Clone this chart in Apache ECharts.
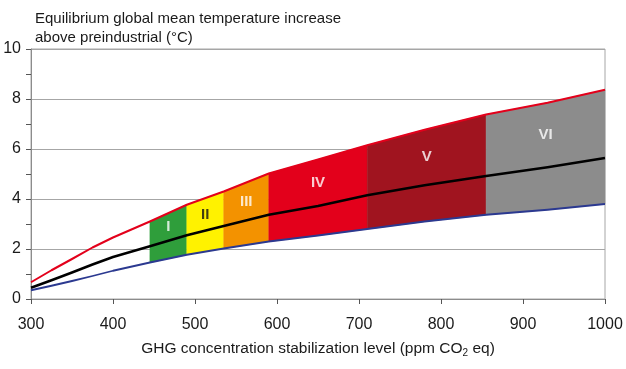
<!DOCTYPE html>
<html><head><meta charset="utf-8">
<script src="https://cdn.jsdelivr.net/npm/echarts@6/dist/echarts.min.js"></script>
<style>html,body{margin:0;padding:0;background:#fff}#c{width:626px;height:369px}</style>
</head><body><div id="c"></div>
<script>
// GHG concentration (ppm CO2 eq)
const ppm   = [300, 325, 350, 375, 400, 445, 490, 535, 590, 650, 710, 780, 855, 930, 1000];
// equilibrium warming (°C): upper bound, best estimate, lower bound
const upper = [0.67, 1.15, 1.60, 2.06, 2.46, 3.10, 3.77, 4.30, 5.02, 5.58, 6.15, 6.77, 7.38, 7.85, 8.37];
const best  = [0.45, 0.75, 1.06, 1.38, 1.68, 2.11, 2.55, 2.92, 3.37, 3.72, 4.15, 4.55, 4.92, 5.27, 5.64];
const lower = [0.35, 0.53, 0.72, 0.92, 1.13, 1.46, 1.77, 2.02, 2.30, 2.54, 2.80, 3.10, 3.37, 3.57, 3.80];
// stabilization categories
const categories = ['I', 'II', 'III', 'IV', 'V', 'VI'];
const catStart   = [445, 490, 535, 590, 710, 855];
const catEnd     = [490, 535, 590, 710, 855, 1000];
const xTicks = [300, 400, 500, 600, 700, 800, 900, 1000];
const yTicks = [0, 2, 4, 6, 8, 10];

const catColors   = ['#2f9e3b', '#fff200', '#f39200', '#e3001b', '#a0141f', '#8c8c8c'];
const labelColors = ['#ffffff', '#111111', '#ffffff', '#ffffff', '#ffffff', '#ffffff'];

function interp(arr, x) {
  for (let i = 0; i < ppm.length - 1; i++) {
    if (x >= ppm[i] && x <= ppm[i + 1]) {
      const t = (x - ppm[i]) / (ppm[i + 1] - ppm[i]);
      return arr[i] + t * (arr[i + 1] - arr[i]);
    }
  }
  return arr[arr.length - 1];
}

const chart = echarts.init(document.getElementById('c'), null, {renderer: 'canvas'});
const font = '"Liberation Sans", Arial, sans-serif';

const bandSeries = {
  type: 'custom',
  coordinateSystem: 'cartesian2d',
  z: 1,
  silent: true,
  encode: {x: 0, y: 1},
  data: categories.map((c, k) => [(catStart[k] + catEnd[k]) / 2, 5, k]),
  renderItem: function (params, api) {
    const k = api.value(2);
    const top = [], bot = [];
    for (let i = 0; i < ppm.length; i++) {
      if (ppm[i] >= catStart[k] && ppm[i] <= catEnd[k]) {
        top.push(api.coord([ppm[i], upper[i]]));
        bot.push(api.coord([ppm[i], lower[i]]));
      }
    }
    const pts = top.concat(bot.reverse());
    return {
      type: 'polygon',
      shape: {points: pts},
      style: {fill: catColors[k], stroke: catColors[k], lineWidth: 0.5}
    };
  }
};

function lineSeries(arr, color, width, z) {
  return {
    type: 'line', data: ppm.map((x, i) => [x, arr[i]]),
    symbol: 'none', smooth: false, z: z, silent: true,
    lineStyle: {color: color, width: width, join: 'round'}
  };
}

const labelSeries = {
  type: 'scatter', symbolSize: 0, z: 5, silent: true,
  data: categories.map((c, k) => {
    const mx = (catStart[k] + catEnd[k]) / 2;
    return {name: c, value: [mx, (interp(best, mx) + interp(upper, mx)) / 2],
      label: {color: labelColors[k]}};
  }),
  label: {show: true, position: 'inside', formatter: '{b}', fontSize: 15,
    fontWeight: 'bold', fontFamily: font}
};

chart.setOption({
  animation: false,
  backgroundColor: '#fff',
  title: {
    text: 'Equilibrium global mean temperature increase\nabove preindustrial (°C)',
    left: 30, top: 4,
    textStyle: {fontSize: 15, fontWeight: 'normal', color: '#1a1a1a', fontFamily: font, lineHeight: 19}
  },
  grid: {left: 31, right: 21, top: 49, bottom: 70, show: true, borderColor: '#a6a6a6', borderWidth: 1},
  xAxis: {
    type: 'value', min: 300, max: 1000, interval: 100,
    name: 'GHG concentration stabilization level (ppm CO{sub|2} eq)',
    nameLocation: 'middle', nameGap: 40,
    nameTextStyle: {fontSize: 15.5, color: '#1a1a1a', fontFamily: font,
      rich: {sub: {fontSize: 10, color: '#1a1a1a', fontFamily: font, padding: [9, 0, 0, 0]}}},
    axisLine: {show: true, lineStyle: {color: '#8c8c8c', width: 1}},
    axisTick: {show: true, length: 5, lineStyle: {color: '#555'}},
    axisLabel: {fontSize: 16, color: '#1a1a1a', fontFamily: font, margin: 18,
      formatter: v => xTicks.includes(v) ? String(v) : ''},
    splitLine: {show: false}
  },
  yAxis: {
    type: 'value', min: 0, max: 10, interval: 2,
    axisLine: {show: true, lineStyle: {color: '#8c8c8c', width: 1}},
    axisTick: {show: true, length: 5, lineStyle: {color: '#555'}},
    minorTick: {show: true, splitNumber: 2, length: 5, lineStyle: {color: '#555'}},
    minorSplitLine: {show: false},
    axisLabel: {fontSize: 16, color: '#1a1a1a', fontFamily: font, margin: 10,
      formatter: v => yTicks.includes(v) ? String(v) : ''},
    splitLine: {show: true, lineStyle: {color: '#a6a6a6', width: 1}}
  },
  series: [
    bandSeries,
    lineSeries(best, '#000000', 2.5, 3),
    lineSeries(upper, '#e3001b', 2, 4),
    lineSeries(lower, '#2b3990', 1.8, 4),
    labelSeries
  ]
});
</script>
</body></html>
